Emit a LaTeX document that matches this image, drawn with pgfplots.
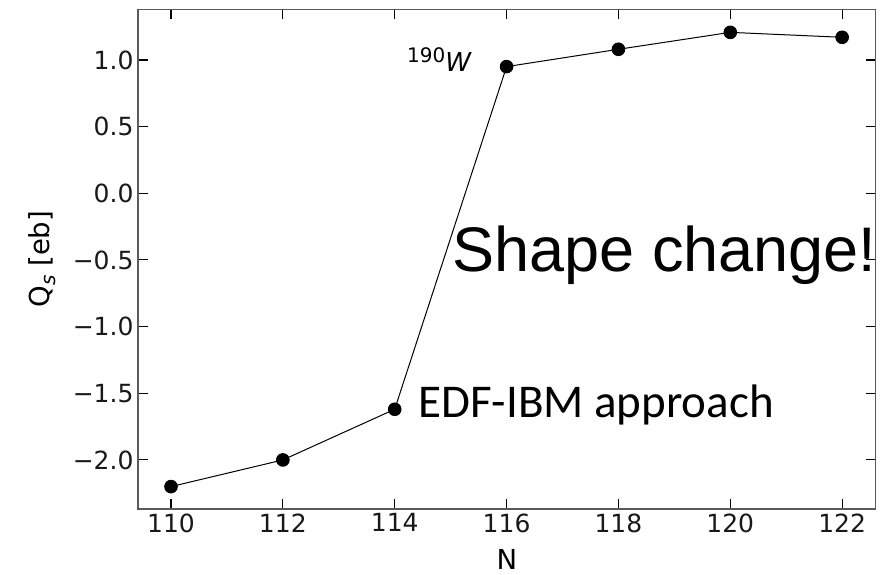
\documentclass[border=0pt]{standalone}
\usepackage{fontspec}
\setmainfont{DejaVu Sans}
\newfontfamily\arialf{Liberation Sans}
\newfontfamily\carlitof{Carlito}
\usepackage{pgfplots}
\pgfplotsset{compat=1.18}
\definecolor{framegray}{HTML}{5A5A5A}
\begin{document}
\begin{tikzpicture}
\useasboundingbox (0,0) rectangle (885bp,575bp);
\begin{axis}[
  at={(138bp,66bp)}, anchor=south west,
  scale only axis,
  width=737.7bp, height=499.7bp,
  xmin=109.41, xmax=122.6,
  ymin=-2.368, ymax=1.38,
  axis line style={framegray, line width=1.3bp},
  tick style={black, line width=1.1bp},
  tick align=inside,
  major tick length=10bp,
  xtick={110,112,114,116,118,120,122},
  xticklabels={110,112,114,116,118,120,122},
  ytick={-2,-1.5,-1,-0.5,0,0.5,1},
  yticklabels={−2.0,−1.5,−1.0,−0.5,0.0,0.5,1.0},
  xtick pos=both, ytick pos=both,
  xticklabel pos=left, yticklabel pos=left,
  ticklabel style={font=\fontsize{25bp}{30bp}\selectfont, text=black!90},
  xticklabel style={yshift=-1bp},
  yticklabel style={xshift=-1bp},
  xlabel={N},
  ylabel={Q\raisebox{-0.22em}{\fontsize{20bp}{20bp}\selectfont\itshape s} [eb]},
  label style={font=\fontsize{27.5bp}{32bp}\selectfont},
  xlabel style={at={(axis description cs:0.5,-0.102)}, anchor=center},
  ylabel style={at={(axis description cs:-0.130,0.5)}, anchor=center, rotate=0},
  clip=false,
]
\addplot[black, line width=1bp, mark=*, mark size=6.3bp, mark options={fill=black}]
  coordinates {(110,-2.2) (112,-2.0) (114,-1.62) (116,0.95) (118,1.08) (120,1.207) (122,1.17)};
\node[anchor=base west, inner sep=0, font=\arialf\fontsize{63bp}{70bp}\selectfont] at (axis cs:115.03,-0.59) {Shape change!};
\node[anchor=base west, inner sep=0, font=\carlitof\fontsize{47bp}{52bp}\selectfont] at (axis cs:114.42,-1.685) {EDF-IBM approach};
\node[anchor=base west, inner sep=0] at (axis cs:114.22,0.91) {\raisebox{9bp}{\fontsize{20bp}{22bp}\selectfont 190}\fontsize{26bp}{30bp}\selectfont\itshape W};
\end{axis}
\end{tikzpicture}
\end{document}
